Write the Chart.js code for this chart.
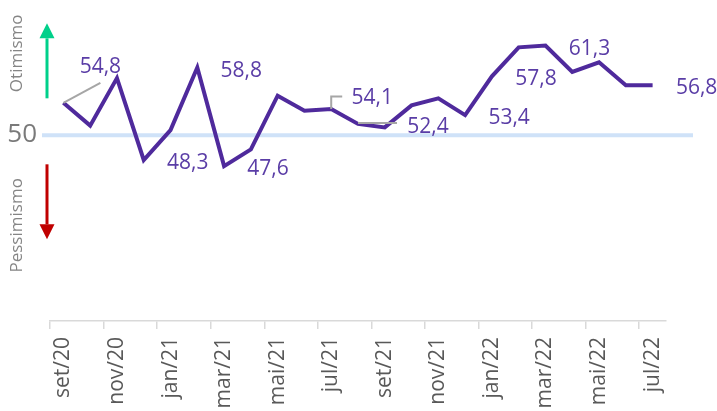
<!DOCTYPE html>
<html>
<head>
<meta charset="utf-8">
<script src="https://cdn.jsdelivr.net/npm/chart.js@4/dist/chart.umd.min.js"></script>
<style>
  html, body { margin: 0; padding: 0; background: #fff; }
  #wrap { width: 717px; height: 411px; }
</style>
</head>
<body>
<div id="wrap"><canvas id="chart" width="717" height="411"></canvas></div>
<script>
'use strict';

// ─────────────────────────────────────────────
// DATA
// ─────────────────────────────────────────────

const months = [
  'set/20', 'out/20', 'nov/20', 'dez/20', 'jan/21', 'fev/21', 'mar/21', 'abr/21',
  'mai/21', 'jun/21', 'jul/21', 'ago/21', 'set/21', 'out/21', 'nov/21', 'dez/21',
  'jan/22', 'fev/22', 'mar/22', 'abr/22', 'mai/22', 'jun/22', 'jul/22'
];
const confidence = [
  54.8, 52.2, 57.6, 48.3, 51.7, 58.8, 47.6, 49.5,
  55.6, 53.9, 54.1, 52.4, 52.0, 54.5, 55.3, 53.4,
  57.8, 61.1, 61.3, 58.3, 59.4, 56.8, 56.8
];
const labelledPoints = [0, 3, 5, 6, 10, 11, 15, 16, 18, 22];
const neutralText    = '50';
const neutralLineAt  = 51.1;   // the guide sits a touch above 50 on the original
const yMin = 30;
const yMax = 65;

const PURPLE     = '#4F2A9C';
const LABEL_CLR  = '#5A3DA6';
const LEADER_CLR = '#A6A6A6';
const FONT       = '"Open Sans", "Noto Sans", sans-serif';

// label offsets from their point (default: to the right)
const labelOffsets = {
  0:  { dx: 37, dy: -36, leader: [[0, 0], [37, -20]] },
  10: { dx: 41, dy: -11, leader: [[0, 0], [0, -12.5], [11, -12.5]] },
  11: { dx: 70, dy: 3,   leader: [[0, -1], [39, -1]] },
};

// ─────────────────────────────────────────────
// DRAW HELPERS
// ─────────────────────────────────────────────

function arrow(ctx, x, yStart, yTip, color) {
  const dir = yTip < yStart ? -1 : 1;
  const head = 15;
  ctx.strokeStyle = color;
  ctx.fillStyle = color;
  ctx.lineWidth = 3;
  ctx.beginPath();
  ctx.moveTo(x, yStart);
  ctx.lineTo(x, yTip - dir * head);
  ctx.stroke();
  ctx.beginPath();
  ctx.moveTo(x, yTip);
  ctx.lineTo(x - 7.5, yTip - dir * head);
  ctx.lineTo(x + 7.5, yTip - dir * head);
  ctx.closePath();
  ctx.fill();
}

function verticalText(ctx, text, x, y) {
  ctx.save();
  ctx.translate(x, y);
  ctx.rotate(-Math.PI / 2);
  ctx.textAlign = 'center';
  ctx.textBaseline = 'middle';
  ctx.fillText(text, 0, 0);
  ctx.restore();
}

const decorations = {
  id: 'decorations',
  beforeDatasetsDraw(chart) {
    const { ctx, chartArea, scales } = chart;
    const y = scales.y.getPixelForValue(neutralLineAt);
    const left = chartArea.left;
    ctx.save();

    // neutral guide
    ctx.strokeStyle = '#CFE2F8';
    ctx.lineWidth = 4;
    ctx.beginPath();
    ctx.moveTo(left - 8, y);
    ctx.lineTo(chartArea.right + 27, y);
    ctx.stroke();

    ctx.fillStyle = '#7A7A7A';
    ctx.font = `26px ${FONT}`;
    ctx.textAlign = 'right';
    ctx.textBaseline = 'middle';
    ctx.fillText(neutralText, left - 13, y - 1);

    arrow(ctx, left - 3, y - 37, y - 112, '#00D08A');
    arrow(ctx, left - 3, y + 29, y + 104, '#C00000');

    ctx.fillStyle = '#858585';
    ctx.font = `17px ${FONT}`;
    verticalText(ctx, 'Otimismo', 17, y - 82);
    verticalText(ctx, 'Pessimismo', 17, y + 90);
    ctx.restore();
  },
  afterDatasetsDraw(chart) {
    const { ctx } = chart;
    const meta = chart.getDatasetMeta(0);
    ctx.save();
    ctx.font = `21px ${FONT}`;
    ctx.fillStyle = LABEL_CLR;
    ctx.textAlign = 'center';
    ctx.textBaseline = 'middle';
    labelledPoints.forEach(i => {
      const pt  = meta.data[i];
      const off = labelOffsets[i] || { dx: 44, dy: 3 };
      if (off.leader) {
        ctx.strokeStyle = LEADER_CLR;
        ctx.lineWidth = 2;
        ctx.beginPath();
        off.leader.forEach(([lx, ly], k) => {
          if (k === 0) ctx.moveTo(pt.x + lx, pt.y + ly);
          else ctx.lineTo(pt.x + lx, pt.y + ly);
        });
        ctx.stroke();
      }
      const txt = confidence[i].toFixed(1).replace('.', ',');
      ctx.fillText(txt, pt.x + off.dx, pt.y + off.dy);
    });
    ctx.restore();
  }
};

// ─────────────────────────────────────────────
// CHART
// ─────────────────────────────────────────────

new Chart(document.getElementById('chart'), {
  type: 'line',
  data: {
    labels: months,
    datasets: [{
      data: confidence,
      borderColor: PURPLE,
      borderWidth: 4,
      borderJoinStyle: 'miter',
      pointRadius: 0,
      tension: 0,
    }]
  },
  options: {
    responsive: false,
    devicePixelRatio: 1,
    animation: false,
    layout: { padding: { left: 50, right: 51, top: 13, bottom: 0 } },
    plugins: { legend: { display: false }, tooltip: { enabled: false } },
    scales: {
      y: { display: false, min: yMin, max: yMax },
      x: {
        offset: true,
        afterFit: s => { s.height = 90; },
        border: { display: true, color: '#D9D9D9', width: 1.5 },
        grid: {
          offset: true,
          drawOnChartArea: false,
          drawTicks: true,
          tickLength: 8,
          lineWidth: 1.5,
          color: c => (c.index % 2 === 0 ? '#D9D9D9' : 'rgba(0,0,0,0)'),
        },
        ticks: {
          autoSkip: false,
          minRotation: 90,
          maxRotation: 90,
          padding: 8,
          color: '#595959',
          font: { family: FONT, size: 21 },
          callback: (v, i) => (i % 2 === 0 ? months[i] : ''),
        }
      }
    }
  },
  plugins: [decorations]
});
</script>
</body>
</html>
